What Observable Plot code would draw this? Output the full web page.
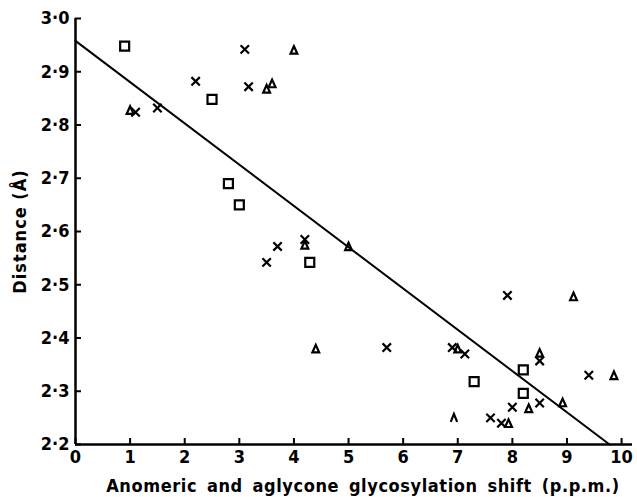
<!DOCTYPE html>
<html><head><meta charset="utf-8">
<script src="https://cdn.jsdelivr.net/npm/d3@7"></script>
<script src="https://cdn.jsdelivr.net/npm/@observablehq/plot@0.6"></script>
<style>
body{margin:0;background:#fff}
.xlab text{letter-spacing:0.6px;word-spacing:3.5px}
g[aria-label="y-axis label"] text{letter-spacing:1px}
</style>
</head><body><div id="chart"></div>
<script>
// ---- data ----
const squareX = [0.9, 2.5, 2.8, 3.0, 4.29, 7.3, 8.2, 8.2];
const squareY = [2.948, 2.848, 2.69, 2.65, 2.542, 2.318, 2.34, 2.296];
const crossX = [1.1, 1.5, 2.2, 3.1, 3.17, 3.5, 3.7, 4.2, 5.7, 6.9, 7.13, 7.91, 8.5, 9.4, 8.0, 8.5, 7.6, 7.8];
const crossY = [2.824, 2.832, 2.882, 2.942, 2.872, 2.542, 2.572, 2.585, 2.382, 2.382, 2.37, 2.48, 2.357, 2.33, 2.27, 2.278, 2.25, 2.24];
const triX = [1.0, 4.0, 3.5, 3.6, 4.2, 5.0, 4.4, 7.0, 9.12, 8.5, 9.86, 8.92, 8.3, 7.93];
const triY = [2.828, 2.941, 2.868, 2.878, 2.575, 2.572, 2.38, 2.38, 2.478, 2.372, 2.33, 2.279, 2.268, 2.24];
const caretX = [6.93];
const caretY = [2.25];
const fitX = [0, 9.78];
const fitY = [2.958, 2.2];
const xTicks = [0, 1, 2, 3, 4, 5, 6, 7, 8, 9, 10];
const yTicks = [2.2, 2.3, 2.4, 2.5, 2.6, 2.7, 2.8, 2.9, 3.0];
const yTickLabels = ["2·2", "2·3", "2·4", "2·5", "2·6", "2·7", "2·8", "2·9", "3·0"];
const xLabel = "Anomeric and aglycone glycosylation shift (p.p.m.)";
const yLabel = "Distance (Å)";

const pts = (xs, ys) => xs.map((x, i) => ({x, y: ys[i]}));

const symSquare = {draw(c, s) {const r = Math.sqrt(s / Math.PI); c.moveTo(-r, -r); c.lineTo(r, -r); c.lineTo(r, r); c.lineTo(-r, r); c.closePath();}};
const symCross = {draw(c, s) {const r = Math.sqrt(s / Math.PI); c.moveTo(-r, -r); c.lineTo(r, r); c.moveTo(r, -r); c.lineTo(-r, r);}};
const symTri = {draw(c, s) {const r = Math.sqrt(s / Math.PI); c.moveTo(0, -r); c.lineTo(r * 0.9, r); c.lineTo(-r * 0.9, r); c.closePath();}};
const symCaret = {draw(c, s) {const r = Math.sqrt(s / Math.PI); c.moveTo(-r * 0.8, r); c.lineTo(0, -r); c.lineTo(r * 0.8, r);}};

const W = 637, H = 497, mL = 75, mR = 5, mT = 18, mB = 53, tick = 6;
const dotStyle = {x: "x", y: "y", stroke: "#000", strokeWidth: 2.2, fill: "none"};

const chart = Plot.plot({
  width: W,
  height: H,
  marginLeft: mL,
  marginRight: mR,
  marginTop: mT,
  marginBottom: mB,
  x: {domain: [0, 10.2]},
  y: {domain: [2.2, 3.0]},
  style: {fontFamily: "'DejaVu Sans Condensed', sans-serif", fontSize: "18px", fontWeight: "bold", color: "#000", background: "#fff"},
  marks: [
    Plot.axisX(xTicks, {tickSize: 0, tickPadding: 6, label: null}),
    Plot.text([xLabel], {text: (d) => d, frameAnchor: "bottom", lineAnchor: "bottom", dy: 47, dx: 9, fill: "#000", className: "xlab"}),
    Plot.axisY(yTicks, {tickSize: 0, tickPadding: 6, tickFormat: (d) => yTickLabels[yTicks.indexOf(d)], label: yLabel, labelAnchor: "center", labelArrow: "none", labelOffset: 62}),
    Plot.tickX(xTicks, {x: (d) => d, stroke: "#000", strokeWidth: 2, insetTop: H - mT - mB - tick}),
    Plot.tickY(yTicks, {y: (d) => d, stroke: "#000", strokeWidth: 2, insetRight: W - mL - mR - tick}),
    Plot.ruleX([0], {stroke: "#000", strokeWidth: 2.5}),
    Plot.ruleY([2.2], {stroke: "#000", strokeWidth: 2.5}),
    Plot.line(pts(fitX, fitY), {x: "x", y: "y", stroke: "#000", strokeWidth: 2}),
    Plot.dot(pts(squareX, squareY), {...dotStyle, symbol: symSquare, r: 4.5}),
    Plot.dot(pts(crossX, crossY), {...dotStyle, symbol: symCross, r: 4.2}),
    Plot.dot(pts(triX, triY), {...dotStyle, symbol: symTri, r: 3.8}),
    Plot.dot(pts(caretX, caretY), {...dotStyle, symbol: symCaret, r: 4})
  ]
});
document.getElementById("chart").appendChild(chart);
</script>
</body></html>
